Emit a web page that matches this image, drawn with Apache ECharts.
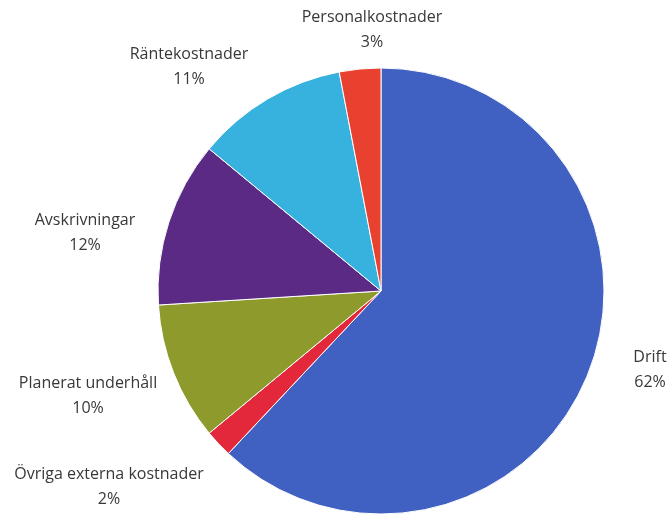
<!DOCTYPE html>
<html>
<head>
<meta charset="utf-8">
<script src="https://cdn.jsdelivr.net/npm/echarts@6/dist/echarts.min.js"></script>
<style>
  html, body { margin: 0; padding: 0; background: #fff; }
  #chart { width: 669px; height: 520px; }
</style>
</head>
<body>
<div id="chart"></div>
<script>
// slices, clockwise from 12 o'clock
var categories = ['Drift', 'Övriga externa kostnader', 'Planerat underhåll', 'Avskrivningar', 'Räntekostnader', 'Personalkostnader'];
var values = [62, 2, 10, 12, 11, 3];
var colors = ['#4060c2', '#e2283a', '#8e9a2c', '#5a2a84', '#37b2df', '#e9412f'];

// label centres (layout only)
var labelPos = [
    [650, 370],
    [109, 487],
    [88, 396],
    [85, 233],
    [189, 67],
    [372, 30]
];

var chart = echarts.init(document.getElementById('chart'));

var pieData = categories.map(function(name, i) {
    return { name: name, value: values[i], itemStyle: { color: colors[i] } };
});

var option = {
    animation: false,
    series: [{
        type: 'pie',
        center: [381, 291],
        radius: 223,
        startAngle: 90,
        clockwise: true,
        data: pieData,
        itemStyle: { borderColor: '#ffffff', borderWidth: 1 },
        label: {
            show: true,
            position: 'outside',
            formatter: function(p) {
                return p.name + '\n' + Math.round(p.percent) + '%';
            },
            fontFamily: 'Open Sans',
            fontSize: 16,
            lineHeight: 25,
            color: '#383838',
            align: 'center',
            overflow: 'none'
        },
        labelLine: { show: false },
        labelLayout: function(params) {
            var p = labelPos[params.dataIndex];
            return { x: p[0], y: p[1], align: 'center', verticalAlign: 'middle' };
        }
    }]
};

chart.setOption(option);
</script>
</body>
</html>
